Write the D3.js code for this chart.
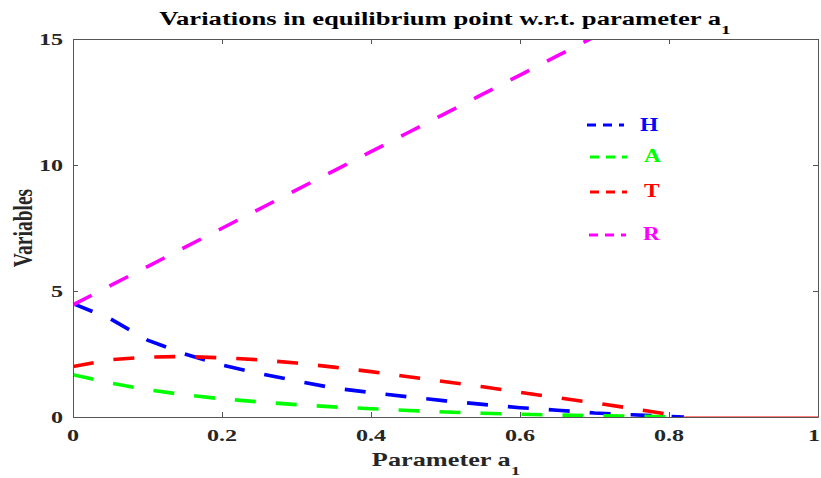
<!DOCTYPE html>
<html><head><meta charset="utf-8">
<script src="https://cdn.jsdelivr.net/npm/d3@7"></script>
<style>html,body{margin:0;padding:0;background:#fff;}svg{display:block;}</style>
</head><body>
<script>
const aValues = [0,0.05,0.1,0.15,0.2,0.25,0.3,0.35,0.4,0.45,0.5,0.55,0.6,0.65,0.7,0.75,0.8,0.82];
const H = [4.5,3.9,3.05,2.5,2.06,1.73,1.43,1.15,0.97,0.8,0.64,0.5,0.37,0.27,0.16,0.09,0.02,0];
const A = [1.68,1.35,1.08,0.88,0.72,0.6,0.49,0.4,0.33,0.26,0.2,0.15,0.11,0.08,0.05,0.03,0.01,0];
const T = [2.0,2.27,2.38,2.4,2.35,2.27,2.14,1.98,1.8,1.6,1.4,1.2,0.98,0.77,0.56,0.34,0.1,0];
const R = [4.45,5.21,5.97,6.73,7.49,8.25,9.01,9.77,10.53,11.29,12.05,12.81,13.57,14.33,15.09,15.85,16.61,16.91];
const zeroTail = [0.82, 1];
const xTicks = [0,0.2,0.4,0.6,0.8,1];
const yTicks = [0,5,10,15];
const seriesNames = ["H","A","T","R"];
const seriesColors = ["#0000ff","#00ff00","#ff0000","#ff00ff"];
const seriesData = [H,A,T,R];

const W = 821, Hh = 478;
const m = {left:73, right:3, top:39, bottom:61};
const svg = d3.select("body").append("svg").attr("width",W).attr("height",Hh);
const x = d3.scaleLinear().domain([0,1]).range([m.left, W-m.right]);
const y = d3.scaleLinear().domain([0,15]).range([Hh-m.bottom, m.top]);
const font = "'Liberation Serif','Times New Roman',serif";
const axisColor = "#555555";
const SX = 1.42;

function stext(px, py, size, anchor, color, sx){
  return svg.append("text").attr("transform",`translate(${px},${py}) scale(${sx||SX},1)`)
    .attr("text-anchor",anchor).style("font-family",font).style("font-size",size+"px")
    .style("font-weight","bold").attr("fill",color);
}

svg.append("defs").append("clipPath").attr("id","clip").append("rect")
  .attr("x",x(0)).attr("y",y(15)).attr("width",x(1)-x(0)).attr("height",y(0)-y(15));

const g = svg.append("g").attr("clip-path","url(#clip)");
const line = d3.line().x((d,i)=>x(aValues[i])).y(d=>y(d));
seriesData.forEach((s,k)=>{
  g.append("path").attr("d",line(s)).attr("fill","none")
    .attr("stroke",seriesColors[k]).attr("stroke-width",3.6)
    .attr("stroke-dasharray","21,20");
});
g.append("line").attr("x1",x(zeroTail[0])).attr("x2",x(zeroTail[1]))
  .attr("y1",y(0)).attr("y2",y(0)).attr("stroke","#ff0000").attr("stroke-width",1.2);

// axes (ticks inward, box)
const xb = svg.append("g").attr("transform",`translate(0,${y(0)})`)
  .call(d3.axisBottom(x).tickValues(xTicks).tickFormat("").tickSizeInner(-5).tickSizeOuter(0));
const xt = svg.append("g").attr("transform",`translate(0,${y(15)})`)
  .call(d3.axisTop(x).tickValues(xTicks).tickFormat("").tickSizeInner(-5).tickSizeOuter(0));
const yl = svg.append("g").attr("transform",`translate(${x(0)},0)`)
  .call(d3.axisLeft(y).tickValues(yTicks).tickFormat("").tickSizeInner(-5).tickSizeOuter(0));
const yr = svg.append("g").attr("transform",`translate(${x(1)},0)`)
  .call(d3.axisRight(y).tickValues(yTicks).tickFormat("").tickSizeInner(-5).tickSizeOuter(0));
[xb,xt,yl,yr].forEach(a=>{
  a.selectAll("path,line").attr("stroke",axisColor).attr("stroke-width",1);
});

const fmt = d=> d===0?"0":(d===1?"1":d3.format(".1f")(d));
xTicks.forEach(t=>{ stext(Math.min(x(t), W-7), y(0)+24, 17, "middle", "#262626").text(fmt(t)); });
yTicks.forEach(t=>{ stext(x(0)-10, y(t)+6, 17, "end", "#262626").text(String(t)); });

// title
const title = stext(445, 25, 18, "middle", "#000", 1.48);
title.append("tspan").text("Variations in equilibrium point w.r.t. parameter a");
title.append("tspan").attr("dy",9).style("font-size","13px").text("1");

const xl = stext(446, 466, 18, "middle", "#262626", 1.46);
xl.append("tspan").text("Parameter a");
xl.append("tspan").attr("dy",9).style("font-size","13px").text("1");

svg.append("text").attr("transform","translate(32,228) scale(1.4,1) rotate(-90)").attr("text-anchor","middle")
  .style("font-family",font).style("font-size","19.5px").style("font-weight","bold").attr("fill","#262626")
  .text("Variables");

// legend
const legY = [125,157,192,235];
const legX0 = [587,590,590,589];
const legTX = [640,644,644,643];
const legBase = [131,162,197,240];
seriesNames.forEach((n,k)=>{
  svg.append("line").attr("x1",legX0[k]).attr("x2",legX0[k]+37).attr("y1",legY[k]).attr("y2",legY[k])
    .attr("stroke",seriesColors[k]).attr("stroke-width",3).attr("stroke-dasharray","9,7");
  stext(legTX[k], legBase[k], 18, "start", seriesColors[k], 1.3).text(n);
});
</script>
</body></html>
